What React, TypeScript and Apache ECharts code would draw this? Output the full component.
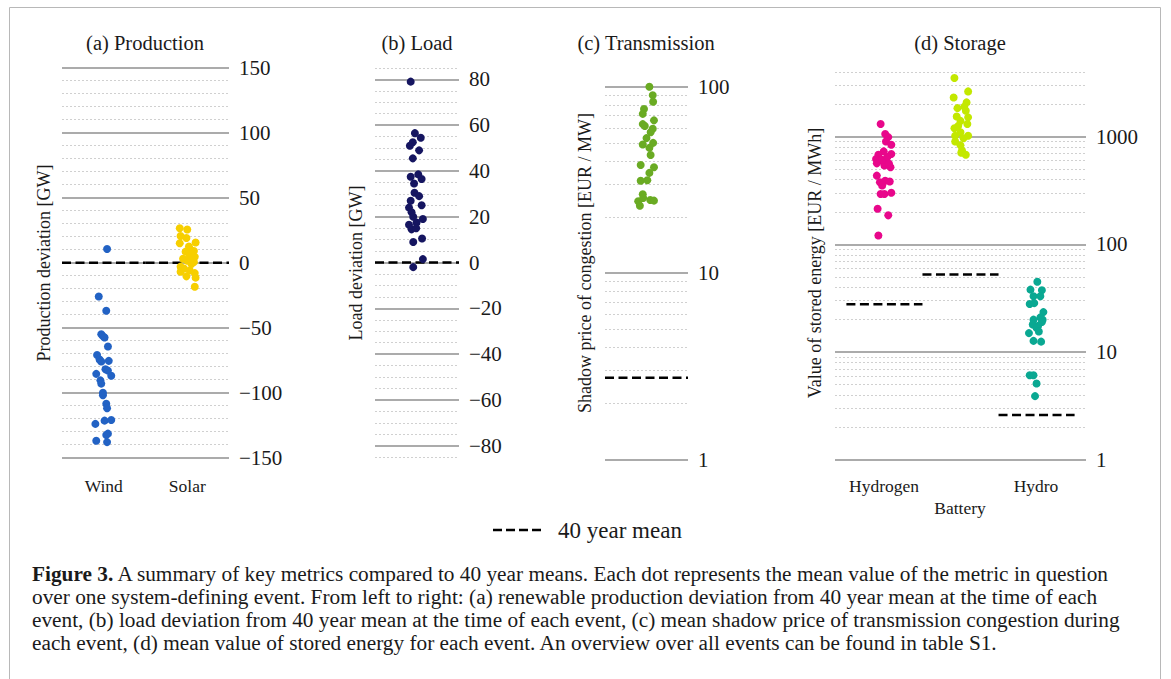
import React, { useEffect, useRef } from "react";
import * as echarts from "echarts";

const SERIF = "'Liberation Serif', 'Times New Roman', serif";
const TEXT = "#1a1a1a";

const productionCategories = ["Wind", "Solar"];
const storageCategories = ["Hydrogen", "Battery", "Hydro"];

// [horizontal offset inside the category (category units), value]
const windPoints: [number, number][] = [
  [0.04, 10.5], [-0.06, -26], [0.03, -37], [-0.03, -55], [-0.01, -56.5], [0.01, -57.5],
  [0.05, -64.5], [-0.08, -71], [-0.05, -74.5], [-0.03, -76], [0.06, -75.5], [0.02, -82],
  [0.05, -83], [-0.09, -85.5], [0.09, -87], [-0.04, -90.5], [-0.03, -93], [-0.01, -100],
  [-0.01, -102], [0.03, -108.5], [0.04, -112], [0.01, -121.5], [0.09, -121], [-0.1, -124],
  [0.05, -131.5], [0.03, -132.5], [-0.09, -137], [0.04, -138],
];
const solarPoints: [number, number][] = [
  [-0.09, 26.5], [0.0, 25.5], [-0.08, 20.5], [-0.01, 19], [0.1, 15.5], [-0.09, 15],
  [0.02, 12.5], [0.04, 10], [-0.02, 8.5], [0.08, 9], [0.03, 5.5], [0.09, 4.5],
  [0.0, 1.5], [0.08, 0.5], [0.05, -1], [-0.08, -3], [-0.04, -4.5], [-0.08, -7],
  [-0.01, -10.5], [0.09, -8], [0.1, -11.5], [0.09, -18.5], [-0.05, 3], [0.06, 2], [0.03, -6],
];
// offsets in half-widths of the panel
const loadPoints: [number, number][] = [
  [-0.15, 79], [-0.05, 56.5], [0.09, 54.5], [-0.1, 52.5], [-0.17, 51], [0.05, 49],
  [-0.1, 45.5], [-0.15, 37.5], [0.03, 38.5], [0.11, 36.5], [-0.07, 34.5], [-0.06, 30.5],
  [0.05, 29], [-0.15, 27], [0.11, 25], [-0.19, 24], [-0.13, 22], [-0.09, 20],
  [0.14, 19], [-0.19, 16.5], [-0.01, 17.5], [-0.13, 14.5], [-0.02, 15], [-0.09, 9],
  [0.12, 10.5], [0.14, 1.5], [-0.09, -2],
];
const transmissionPoints: [number, number][] = [
  [0.07, 100], [0.15, 90], [0.16, 83], [-0.06, 76], [-0.09, 71.5], [0.18, 66],
  [-0.09, 63], [-0.04, 61.5], [0.15, 59.5], [0.1, 57], [0.0, 53], [0.16, 50],
  [-0.09, 49], [0.07, 47], [0.1, 43], [-0.14, 38], [0.18, 37], [0.07, 34.5],
  [-0.14, 31.3], [0.02, 31.5], [-0.09, 26.5], [-0.2, 24.3], [0.09, 24.7], [0.18, 24.5],
  [-0.16, 23], [-0.08, 25.3],
];
const hydrogenPoints: [number, number][] = [
  [-0.05, 1310], [0.01, 1060], [0.05, 990], [0.02, 900], [0.09, 840], [-0.01, 730],
  [-0.08, 680], [0.09, 690], [-0.11, 620], [-0.05, 600], [0.03, 580], [-0.1, 565],
  [0.0, 540], [0.08, 520], [-0.03, 610], [0.04, 650], [0.06, 560], [-0.1, 435],
  [-0.06, 377], [0.01, 390], [0.07, 383], [-0.03, 352], [-0.05, 294], [0.0, 294],
  [0.09, 301], [-0.09, 214], [0.05, 186], [-0.08, 121],
];
const batteryPoints: [number, number][] = [
  [-0.08, 3500], [0.1, 2630], [-0.09, 2310], [0.08, 2080], [0.05, 1900], [-0.04, 1840],
  [0.07, 1740], [-0.05, 1540], [0.1, 1510], [0.0, 1400], [0.09, 1310], [-0.03, 1260],
  [-0.08, 1195], [0.0, 1100], [0.1, 1020], [-0.07, 1020], [0.04, 965], [-0.07, 900],
  [0.0, 830], [0.02, 745], [0.01, 710], [0.07, 680],
];
const hydroPoints: [number, number][] = [
  [0.01, 45], [-0.08, 38], [0.07, 37.5], [-0.04, 33], [0.05, 33], [-0.09, 28],
  [-0.03, 28.5], [0.09, 23.5], [0.05, 21], [0.08, 20], [-0.04, 20], [0.07, 19],
  [-0.05, 18], [0.02, 17.5], [0.0, 16.8], [0.03, 15.5], [-0.1, 15], [-0.04, 12.7],
  [0.06, 12.5], [-0.09, 6.1], [-0.04, 6.1], [0.0, 5.1], [-0.02, 3.9],
];

const productionMeans = [0, 0];
const loadMean = 0;
const transmissionMean = 2.75;
const storageMeans = [27.8, 52.5, 2.6];

const loadMajorTicks = [-80, -60, -40, -20, 0, 20, 40, 60, 80];
const transmissionDecades = [1, 10];
const storageDecades = [1, 10, 100];
const storageTopMinor = [2000, 3000, 4000];

const colors = {
  wind: "#2262c4",
  solar: "#f7cf00",
  load: "#151560",
  transmission: "#6aab23",
  hydrogen: "#e8078b",
  battery: "#c3e800",
  hydro: "#0aa892",
};

const captionLines = [
  "{b|Figure 3.} A summary of key metrics compared to 40 year means. Each dot represents the mean value of the metric in question",
  "over one system-defining event. From left to right: (a) renewable production deviation from 40 year mean at the time of each",
  "event, (b) load deviation from 40 year mean at the time of each event, (c) mean shadow price of transmission congestion during",
  "each event, (d) mean value of stored energy for each event. An overview over all events can be found in table S1.",
];

const minorFromDecades = (decades: number[]) =>
  decades.flatMap((d) => [2, 3, 4, 5, 6, 7, 8, 9].map((m) => m * d));

const fmt = (v: number) => (v < 0 ? "\u2212" + Math.abs(v) : String(v));

export default function App() {
  const ref = useRef<HTMLDivElement>(null);

  useEffect(() => {
    if (!ref.current) return;
    const chart = echarts.init(ref.current, undefined, { renderer: "svg" });

    const majorLine = { color: "#ababab", width: 2 };
    const minorLine = { color: "#d0d0d0", width: 1, type: [2, 2] as number[] };
    const labelBase = { color: TEXT, fontFamily: SERIF, fontSize: 21, margin: 10 };
    const hiddenAxisParts = {
      axisLine: { show: false },
      axisTick: { show: false },
    };
    const markLines = (values: number[], style: any) => ({
      silent: true,
      z: 1,
      symbol: ["none", "none"],
      label: { show: false },
      emphasis: { disabled: true },
      lineStyle: style,
      animation: false,
      data: values.map((v) => ({ yAxis: v })),
    });
    const dashed = { color: "#000", width: 2.5, type: [9, 4.5] as number[] };
    const meanSeries = (xi: number, yi: number, x0: number, x1: number, m: number) => ({
      type: "line",
      xAxisIndex: xi,
      yAxisIndex: yi,
      data: [[x0, m], [x1, m]],
      symbol: "none",
      silent: true,
      lineStyle: dashed,
      z: 3,
    });
    const scatter = (xi: number, yi: number, ci: number, pts: [number, number][], color: string) => ({
      type: "scatter",
      xAxisIndex: xi,
      yAxisIndex: yi,
      data: pts.map(([dx, v]) => [ci + dx, v]),
      symbolSize: 8,
      itemStyle: { color, opacity: 1 },
      silent: true,
      clip: false,
      z: 5,
    });

    const text = (x: number, y: number, t: string, size: number, extra: any = {}) => ({
      type: "text",
      x,
      y,
      silent: true,
      ...extra,
      style: {
        text: t,
        fill: TEXT,
        fontFamily: SERIF,
        fontSize: size,
        align: "center",
        verticalAlign: "middle",
        ...(extra.style || {}),
      },
    });

    const logLabel = (v: number) => String(Math.round(v));

    const option: any = {
      animation: false,
      backgroundColor: "#ffffff",
      grid: [
        { left: 62, top: 67.7, width: 167, height: 390 },
        { left: 375, top: 67.9, width: 84, height: 389.3 },
        { left: 605, top: 86.7, width: 83, height: 373 },
        { left: 835, top: 71.8, width: 251, height: 388 },
        { left: 846, top: 71.8, width: 228, height: 388 },
      ],
      xAxis: [
        { gridIndex: 0, type: "value", min: -0.5, max: 1.5, show: false, position: "top" },
        {
          gridIndex: 0,
          type: "category",
          position: "bottom",
          data: productionCategories,
          ...hiddenAxisParts,
          splitLine: { show: false },
          axisLabel: { color: TEXT, fontFamily: SERIF, fontSize: 17.5, margin: 19 },
        },
        { gridIndex: 1, type: "value", min: -1, max: 1, show: false },
        { gridIndex: 2, type: "value", min: -1, max: 1, show: false },
        { gridIndex: 3, type: "value", min: -0.65, max: 2.65, show: false },
        {
          gridIndex: 4,
          type: "category",
          position: "bottom",
          data: storageCategories,
          ...hiddenAxisParts,
          splitLine: { show: false },
          axisLabel: {
            color: TEXT,
            fontFamily: SERIF,
            fontSize: 17.5,
            lineHeight: 22,
            margin: 15,
            interval: 0,
            formatter: (v: string, i: number) => (i === 1 ? "\n" + v : v),
          },
        },
      ],
      yAxis: [
        {
          gridIndex: 0,
          type: "value",
          min: -150,
          max: 150,
          interval: 50,
          position: "right",
          ...hiddenAxisParts,
          axisLabel: { ...labelBase, formatter: fmt },
          splitLine: { lineStyle: majorLine },
          minorTick: { show: false, splitNumber: 5 },
          minorSplitLine: { show: true, lineStyle: minorLine },
        },
        {
          gridIndex: 1,
          type: "value",
          min: -85,
          max: 85,
          interval: 5,
          position: "right",
          ...hiddenAxisParts,
          axisLabel: { ...labelBase, formatter: (v: number) => (v % 20 === 0 ? fmt(v) : "") },
          splitLine: { lineStyle: minorLine },
        },
        {
          gridIndex: 2,
          type: "log",
          logBase: 10,
          min: 1,
          max: 100,
          position: "right",
          ...hiddenAxisParts,
          axisLabel: { ...labelBase, formatter: logLabel },
          splitLine: { lineStyle: majorLine },
        },
        {
          gridIndex: 3,
          type: "log",
          logBase: 10,
          min: 1,
          max: 4000,
          position: "right",
          ...hiddenAxisParts,
          axisLabel: { ...labelBase, showMaxLabel: false, formatter: logLabel },
          splitLine: { lineStyle: majorLine, showMaxLine: false },
        },
        { gridIndex: 4, type: "value", show: false },
      ],
      series: [
        // extra gridlines
        { type: "line", xAxisIndex: 2, yAxisIndex: 1, data: [], z: 1, silent: true, markLine: markLines(loadMajorTicks, { ...majorLine, type: "solid" }) },
        { type: "line", xAxisIndex: 3, yAxisIndex: 2, data: [], z: 1, silent: true, markLine: markLines(minorFromDecades(transmissionDecades), minorLine) },
        { type: "line", xAxisIndex: 4, yAxisIndex: 3, data: [], z: 1, silent: true, markLine: markLines([...minorFromDecades(storageDecades), ...storageTopMinor], minorLine) },
        // 40 year means
        ...productionMeans.map((m, i) => meanSeries(0, 0, i - 0.5, i + 0.5, m)),
        meanSeries(2, 1, -1, 1, loadMean),
        meanSeries(3, 2, -1, 1, transmissionMean),
        ...storageMeans.map((m, i) => meanSeries(4, 3, i - 0.5, i + 0.5, m)),
        // events
        scatter(0, 0, 0, windPoints, colors.wind),
        scatter(0, 0, 1, solarPoints, colors.solar),
        scatter(2, 1, 0, loadPoints, colors.load),
        scatter(3, 2, 0, transmissionPoints, colors.transmission),
        scatter(4, 3, 0, hydrogenPoints, colors.hydrogen),
        scatter(4, 3, 1, batteryPoints, colors.battery),
        scatter(4, 3, 2, hydroPoints, colors.hydro),
      ],
      graphic: [
        {
          type: "rect",
          silent: true,
          shape: { x: 9.5, y: 7.5, width: 1151, height: 720 },
          style: { fill: "none", stroke: "#b8b8b8", lineWidth: 1 },
          z: -1,
        },
        text(145, 43, "(a) Production", 20.5),
        text(417, 43, "(b) Load", 20.5),
        text(646, 43, "(c) Transmission", 20.5),
        text(960, 43, "(d) Storage", 20.5),
        text(43.5, 263, "Production deviation [GW]", 18, { rotation: Math.PI / 2 }),
        text(356, 263, "Load deviation [GW]", 18, { rotation: Math.PI / 2 }),
        text(585, 263, "Shadow price of congestion [EUR / MW]", 18, { rotation: Math.PI / 2 }),
        text(815, 263, "Value of stored energy [EUR / MWh]", 18, { rotation: Math.PI / 2 }),
        {
          type: "line",
          silent: true,
          shape: { x1: 493, y1: 530, x2: 541, y2: 530 },
          style: { stroke: "#000", lineWidth: 2.5, lineDash: [9, 4] },
        },
        text(558, 530, "40 year mean", 23, { style: { align: "left" } }),
        ...captionLines.map((line, i) => ({
          type: "text",
          x: 32,
          y: 573.5 + i * 23.2,
          silent: true,
          style: {
            text: line,
            fill: TEXT,
            fontFamily: SERIF,
            fontSize: 21.3,
            align: "left",
            verticalAlign: "middle",
            rich: {
              b: { fontFamily: SERIF, fontSize: 21.3, fontWeight: "bold", fill: TEXT },
            },
          },
        })),
      ],
    };

    chart.setOption(option);
    return () => chart.dispose();
  }, []);

  return (
    <div
      ref={ref}
      style={{ position: "fixed", left: 0, top: 0, width: 1171, height: 679, background: "#fff" }}
    />
  );
}
